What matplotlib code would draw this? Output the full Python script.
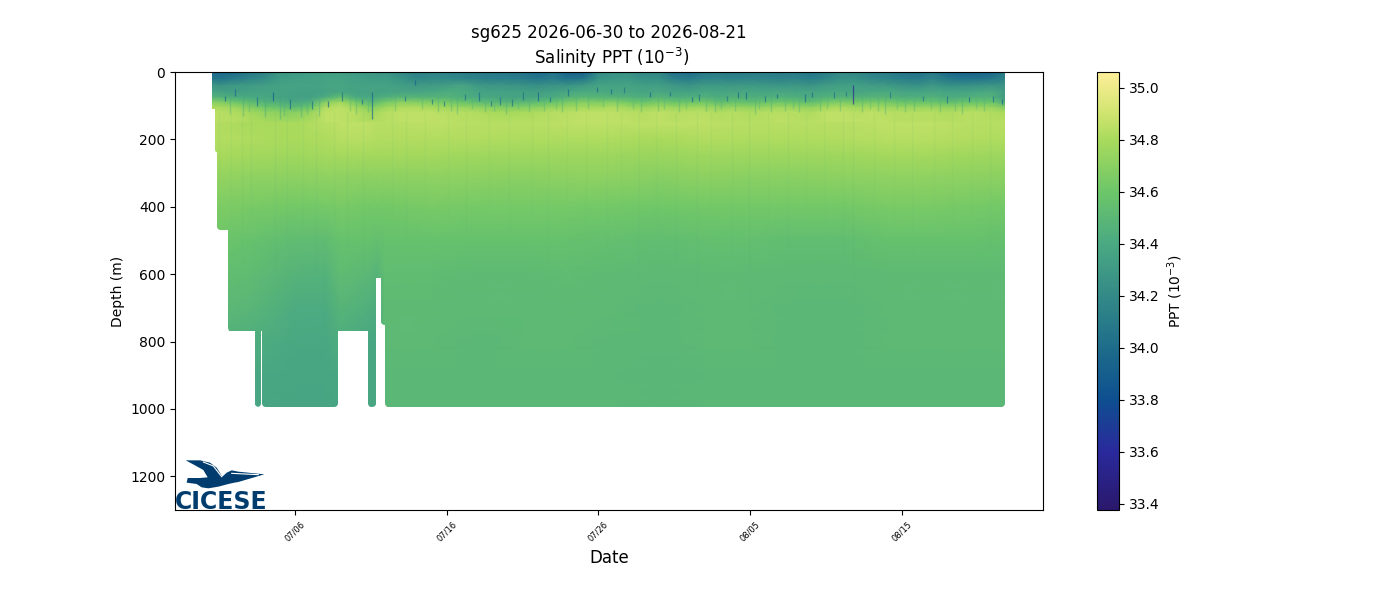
import matplotlib
matplotlib.use("Agg")
import matplotlib.pyplot as plt
import matplotlib.dates as mdates
import numpy as np
from datetime import datetime, timedelta
from matplotlib.colors import LinearSegmentedColormap, Normalize
from matplotlib.cm import ScalarMappable
from matplotlib.path import Path
from matplotlib.patches import PathPatch, Polygon

# all days are counted from 07/06
origin = datetime(2026, 7, 6)

# colour scale
cbar_levels = [33.375, 33.6, 33.8, 34.0, 34.2, 34.4, 34.6, 34.8, 34.9, 35.06]
cbar_colors = ["#2a186c", "#2a2a9c", "#0e4f90", "#1e6d8b", "#338a87", "#4aa982",
               "#6cc669", "#a8da5c", "#cfe46e", "#fdee99"]

# how deep the glider got
leg_edges = [-5.47, -5.27, -5.14, -4.42, -2.64, -2.24, -2.18, 2.83, 4.81, 5.34, 5.67, 5.93, 46.8]
leg_depth = [110, 240, 470, 770, 993, 770, 993, 770, 993, 610, 750, 993]

# upper layer, one column a day
top_days = list(range(-6, 48))
top_depths = [0, 20, 40, 60, 75, 90, 105, 120, 150]
top_0 = [34.0, 33.98, 34.0, 34.08, 34.15, 34.28, 34.3, 34.32, 34.33, 34.33, 34.3, 34.28, 34.27, 34.2,
         34.12, 34.15, 34.15, 34.12, 34.08, 34.08, 34.06, 34.05, 33.98, 34.05, 33.92, 33.92, 34.2,
         34.25, 34.25, 34.18, 34.18, 34.02, 34.0, 34.08, 34.1, 34.08, 34.1, 34.1, 34.08, 34.1, 34.05,
         34.12, 34.2, 34.18, 34.12, 34.1, 34.05, 34.03, 34.1, 33.98, 33.93, 33.93, 33.98, 34.15]
top_20 = [34.08, 34.05, 34.1, 34.16, 34.22, 34.31, 34.33, 34.34, 34.35, 34.36, 34.33, 34.31, 34.31, 34.26,
          34.18, 34.2, 34.2, 34.17, 34.14, 34.12, 34.12, 34.1, 34.06, 34.1, 34.04, 34.07, 34.26,
          34.29, 34.29, 34.24, 34.24, 34.12, 34.1, 34.16, 34.17, 34.16, 34.17, 34.16, 34.15, 34.16, 34.12,
          34.18, 34.25, 34.24, 34.19, 34.17, 34.12, 34.1, 34.16, 34.08, 34.04, 34.05, 34.08, 34.19]
top_40 = [34.3, 34.27, 34.3, 34.31, 34.33, 34.35, 34.36, 34.35, 34.37, 34.38, 34.36, 34.35, 34.35, 34.33,
          34.3, 34.31, 34.32, 34.38, 34.3, 34.28, 34.28, 34.26, 34.24, 34.27, 34.26, 34.3, 34.36,
          34.36, 34.36, 34.33, 34.33, 34.29, 34.26, 34.3, 34.3, 34.29, 34.3, 34.29, 34.28, 34.29, 34.27,
          34.31, 34.33, 34.33, 34.31, 34.3, 34.27, 34.25, 34.29, 34.25, 34.24, 34.26, 34.27, 34.27]
top_60 = [34.38, 34.36, 34.33, 34.35, 34.36, 34.36, 34.35, 34.34, 34.36, 34.38, 34.36, 34.35, 34.36, 34.37,
          34.37, 34.39, 34.43, 34.41, 34.37, 34.36, 34.35, 34.35, 34.33, 34.35, 34.39, 34.41, 34.41,
          34.39, 34.39, 34.37, 34.39, 34.36, 34.36, 34.39, 34.37, 34.38, 34.39, 34.37, 34.39, 34.38, 34.37,
          34.39, 34.4, 34.38, 34.39, 34.41, 34.38, 34.37, 34.39, 34.37, 34.37, 34.39, 34.41, 34.3]
top_75 = [34.5, 34.46, 34.42, 34.4, 34.38, 34.36, 34.34, 34.34, 34.42, 34.55, 34.4, 34.38, 34.44, 34.48,
          34.48, 34.47, 34.47, 34.43, 34.4, 34.38, 34.36, 34.36, 34.38, 34.4, 34.47, 34.5, 34.48,
          34.47, 34.45, 34.43, 34.47, 34.43, 34.43, 34.45, 34.41, 34.45, 34.43, 34.43, 34.45, 34.43, 34.41,
          34.45, 34.47, 34.45, 34.47, 34.47, 34.43, 34.43, 34.45, 34.41, 34.43, 34.45, 34.45, 34.26]
top_90 = [34.7, 34.68, 34.6, 34.54, 34.46, 34.44, 34.4, 34.44, 34.68, 34.78, 34.62, 34.5, 34.63, 34.7,
          34.68, 34.66, 34.63, 34.58, 34.54, 34.5, 34.48, 34.5, 34.54, 34.58, 34.64, 34.68, 34.66,
          34.68, 34.62, 34.58, 34.64, 34.58, 34.6, 34.62, 34.54, 34.58, 34.54, 34.58, 34.6, 34.58, 34.54,
          34.63, 34.66, 34.62, 34.64, 34.63, 34.58, 34.58, 34.58, 34.54, 34.58, 34.58, 34.58, 34.38]
top_105 = [34.82, 34.8, 34.76, 34.68, 34.6, 34.57, 34.52, 34.6, 34.82, 34.85, 34.78, 34.66, 34.77, 34.81,
           34.81, 34.79, 34.77, 34.75, 34.72, 34.68, 34.66, 34.68, 34.7, 34.74, 34.77, 34.79, 34.79,
           34.81, 34.77, 34.75, 34.79, 34.75, 34.77, 34.77, 34.72, 34.75, 34.72, 34.74, 34.77, 34.75, 34.72,
           34.79, 34.81, 34.77, 34.79, 34.77, 34.75, 34.75, 34.75, 34.72, 34.74, 34.75, 34.74, 34.65]
top_120 = [34.84, 34.84, 34.82, 34.79, 34.73, 34.71, 34.69, 34.75, 34.85, 34.86, 34.83, 34.77, 34.83, 34.85,
           34.85, 34.85, 34.84, 34.83, 34.82, 34.8, 34.79, 34.8, 34.81, 34.83, 34.84, 34.85, 34.85,
           34.85, 34.84, 34.83, 34.85, 34.83, 34.84, 34.84, 34.82, 34.83, 34.81, 34.83, 34.84, 34.83, 34.81,
           34.85, 34.86, 34.84, 34.85, 34.84, 34.83, 34.83, 34.83, 34.81, 34.83, 34.83, 34.82, 34.8]
top_150 = [34.84, 34.84, 34.83, 34.82, 34.8, 34.79, 34.79, 34.81, 34.85, 34.85, 34.84, 34.82, 34.84, 34.85,
           34.85, 34.85, 34.85, 34.84, 34.84, 34.83, 34.83, 34.83, 34.84, 34.84, 34.85, 34.85, 34.85,
           34.85, 34.85, 34.84, 34.85, 34.84, 34.85, 34.85, 34.84, 34.84, 34.83, 34.84, 34.85, 34.84, 34.84,
           34.85, 34.86, 34.85, 34.85, 34.85, 34.84, 34.84, 34.84, 34.83, 34.84, 34.84, 34.83, 34.83]

# lower layer
deep_days = [-6, -3, 0, 2, 3, 4.9, 5.4, 5.9, 9, 12, 15, 18, 21, 24, 27, 30, 33, 36, 39, 42, 45, 48]
deep_depths = [150, 200, 250, 300, 400, 500, 600, 700, 800, 900, 1000]
deep_150 = [34.84, 34.8, 34.8, 34.84, 34.85, 34.85, 34.84, 34.84, 34.85, 34.84, 34.84, 34.85, 34.85, 34.85, 34.85, 34.84, 34.84, 34.84, 34.85, 34.85, 34.84, 34.83]
deep_200 = [34.83, 34.81, 34.8, 34.81, 34.83, 34.83, 34.82, 34.82, 34.82, 34.82, 34.81, 34.81, 34.81, 34.8, 34.82, 34.81, 34.81, 34.82, 34.83, 34.83, 34.82, 34.81]
deep_250 = [34.8, 34.78, 34.77, 34.78, 34.79, 34.78, 34.78, 34.78, 34.78, 34.77, 34.76, 34.76, 34.76, 34.75, 34.77, 34.76, 34.76, 34.77, 34.78, 34.78, 34.77, 34.76]
deep_300 = [34.75, 34.73, 34.72, 34.73, 34.73, 34.72, 34.72, 34.72, 34.73, 34.72, 34.71, 34.72, 34.72, 34.7, 34.72, 34.71, 34.71, 34.72, 34.73, 34.73, 34.72, 34.71]
deep_400 = [34.67, 34.64, 34.62, 34.63, 34.64, 34.62, 34.62, 34.62, 34.64, 34.63, 34.63, 34.63, 34.62, 34.61, 34.62, 34.62, 34.62, 34.62, 34.64, 34.64, 34.63, 34.62]
deep_500 = [34.6, 34.57, 34.53, 34.53, 34.57, 34.56, 34.55, 34.56, 34.57, 34.56, 34.56, 34.56, 34.55, 34.54, 34.55, 34.55, 34.54, 34.54, 34.56, 34.56, 34.56, 34.55]
deep_600 = [34.55, 34.53, 34.47, 34.46, 34.53, 34.5, 34.47, 34.54, 34.53, 34.52, 34.52, 34.53, 34.52, 34.51, 34.52, 34.52, 34.51, 34.51, 34.52, 34.52, 34.52, 34.52]
deep_700 = [34.52, 34.49, 34.42, 34.41, 34.48, 34.44, 34.42, 34.52, 34.52, 34.51, 34.51, 34.52, 34.51, 34.5, 34.51, 34.51, 34.5, 34.5, 34.51, 34.51, 34.51, 34.51]
deep_800 = [34.47, 34.43, 34.39, 34.39, 34.43, 34.38, 34.38, 34.51, 34.51, 34.5, 34.51, 34.51, 34.5, 34.5, 34.51, 34.51, 34.5, 34.5, 34.51, 34.51, 34.51, 34.51]
deep_900 = [34.45, 34.39, 34.38, 34.38, 34.39, 34.38, 34.38, 34.5, 34.5, 34.5, 34.5, 34.5, 34.5, 34.49, 34.5, 34.5, 34.5, 34.5, 34.5, 34.5, 34.5, 34.5]
deep_1000 = [34.43, 34.38, 34.37, 34.37, 34.38, 34.38, 34.38, 34.5, 34.5, 34.5, 34.5, 34.5, 34.5, 34.49, 34.5, 34.5, 34.5, 34.5, 34.5, 34.5, 34.5, 34.5]

# thin fresh spikes seen in single profiles
spike_days = [-4.6, -3.96, -2.5, -1.45, -0.33, 1.1, 2.2, 3.1, 4.4, 5.1, 7.25, 7.9, 9.0, 9.8, 11.2, 12.1,
              12.9, 13.5, 14.3, 15.0, 16.0, 16.8, 18.0, 19.9, 20.8, 21.7, 23.4, 24.7, 26.2, 26.6, 28.5,
              29.2, 29.7, 31.0, 31.8, 33.6, 34.1, 35.5, 36.3, 36.8, 39.2, 41.4, 43.0, 44.4, 46.0, 46.6]
spike_top = [70, 50, 75, 60, 80, 85, 85, 60, 80, 60, 70, 25, 80, 85, 65, 60, 85, 75, 80, 60, 60, 75, 50, 45,
             50, 45, 60, 60, 75, 65, 70, 60, 60, 70, 65, 65, 60, 60, 60, 40, 60, 70, 70, 75, 70, 80]
spike_bottom = [85, 72, 100, 85, 110, 110, 105, 85, 95, 140, 85, 38, 95, 100, 82, 85, 100, 98, 100, 82,
                85, 90, 72, 60, 65, 62, 74, 72, 88, 85, 85, 78, 80, 88, 78, 88, 75, 78, 72, 95, 78, 86, 92, 90, 88, 95]
spike_sal = [33.98, 33.98, 34.02, 33.9, 33.95, 34.02, 33.96, 34.04, 34.02, 33.98, 34.04, 33.96, 34.06, 34.04, 34.02,
             33.98, 34.02, 34.04, 34.04, 34.02, 33.96, 34.04, 33.94, 33.98, 33.98, 34.04, 33.96, 33.94, 33.96, 34.04,
             34.04, 33.98, 33.94, 34.04, 33.94, 33.96, 33.98, 34.04, 34.04, 33.55, 34.06, 34.06, 34.04, 33.98, 34.04, 33.98]

# fainter profile streaks in the transition layer
streak_days = [-4.3, -3.4, -3.0, -2.0, -1.0, -0.7, 0.4, 0.8, 1.6, 3.6, 4.0, 4.8, 6.6, 8.4, 9.4, 10.3, 10.7, 11.7,
               12.5, 13.1, 13.9, 14.7, 15.4, 16.4, 17.2, 17.6, 18.5, 19.3, 20.3, 21.2, 22.3, 22.8, 23.9, 24.3,
               25.3, 25.8, 27.1, 27.7, 28.1, 29.0, 30.3, 30.6, 31.4, 32.3, 32.8, 33.2, 34.6, 35.1, 35.9, 37.4,
               37.9, 38.4, 38.9, 39.7, 40.2, 40.8, 41.9, 42.5, 43.5, 44.0, 44.9, 45.4]
streak_top = [70, 75, 70, 80, 70, 75, 70, 80, 75, 75, 70, 75, 75, 65, 70, 75, 65, 70, 75, 70, 65, 75, 70, 65, 70,
              60, 70, 65, 60, 65, 70, 65, 60, 65, 70, 65, 60, 70, 65, 60, 70, 65, 60, 70, 65, 60, 70, 65, 60,
              70, 65, 60, 70, 65, 60, 70, 65, 60, 70, 65, 60, 70]
streak_bottom = [125, 130, 120, 135, 140, 130, 135, 125, 130, 115, 125, 120, 115, 110, 120, 115, 125, 110, 120,
                 115, 125, 110, 120, 115, 110, 120, 115, 110, 105, 115, 110, 120, 115, 110, 120, 110, 115, 120,
                 110, 115, 125, 110, 120, 115, 110, 120, 115, 110, 115, 120, 110, 115, 125, 110, 120, 115, 110,
                 120, 115, 125, 110, 115]
streak_sal = [34.42, 34.38, 34.45, 34.36, 34.35, 34.4, 34.38, 34.42, 34.4, 34.5, 34.45, 34.48, 34.5, 34.48, 34.44,
              34.46, 34.42, 34.48, 34.44, 34.46, 34.42, 34.48, 34.44, 34.46, 34.48, 34.42, 34.46, 34.48, 34.5,
              34.46, 34.48, 34.44, 34.46, 34.48, 34.44, 34.48, 34.46, 34.42, 34.48, 34.46, 34.44, 34.48, 34.44,
              34.46, 34.48, 34.44, 34.46, 34.48, 34.46, 34.44, 34.48, 34.46, 34.42, 34.48, 34.44, 34.46, 34.48,
              34.44, 34.46, 34.42, 34.48, 34.46]

# weak stripes running down through the thermocline
deep_streak_days = [-5.0, -4.2, -3.5, -2.9, -1.3, -0.5, 0.5, 1.4, 2.6, 3.4, 4.5, 6.4, 7.3, 8.6, 10.1, 11.3, 12.8, 14.1,
                    15.6, 16.7, 17.9, 19.2, 20.6, 21.5, 22.7, 23.8, 25.1, 26.5, 27.4, 28.8, 29.9, 31.2, 32.5, 33.7,
                    34.9, 36.1, 36.8, 38.2, 39.5, 40.7, 42.1, 43.3, 44.6, 45.8]
deep_streak_bottom = [440, 480, 560, 420, 600, 520, 480, 620, 450, 520, 600, 420, 500, 380, 460, 520, 400, 480, 420,
                      560, 380, 470, 520, 400, 620, 480, 560, 650, 420, 540, 700, 460, 520, 400, 480, 560, 680, 420,
                      460, 540, 400, 480, 420, 520]
deep_streak_sal = [34.56, 34.58, 34.5, 34.52, 34.44, 34.5, 34.54, 34.46, 34.52, 34.48, 34.5, 34.56, 34.54, 34.6, 34.58,
                   34.54, 34.6, 34.56, 34.6, 34.52, 34.62, 34.58, 34.54, 34.6, 34.5, 34.56, 34.52, 34.48, 34.6, 34.52,
                   34.46, 34.56, 34.52, 34.6, 34.56, 34.52, 34.46, 34.6, 34.58, 34.54, 34.62, 34.58, 34.6, 34.54]

# logo outline
bird_x = [32, 75, 105, 125, 142, 155, 170, 190, 268, 190, 178, 160, 130, 100, 80, 65, 35, 38, 75, 98, 85, 60]
bird_y = [13, 13, 20, 35, 62, 50, 43, 47, 55, 78, 80, 84, 92, 97, 94, 84, 80, 66, 66, 64, 42, 28]


def to_date(days):
    return mdates.date2num([origin + timedelta(days=float(d)) for d in days])


cmap = LinearSegmentedColormap.from_list(
    "haline", [((v - cbar_levels[0]) / (cbar_levels[-1] - cbar_levels[0]), c) for v, c in zip(cbar_levels, cbar_colors)])
norm = Normalize(cbar_levels[0], cbar_levels[-1])

fig = plt.figure(figsize=(14, 6), dpi=100)
ax = fig.add_axes([0.125, 0.15, 0.62, 0.73])
cax = fig.add_axes([1097 / 1400, 0.15, 22 / 1400, 0.73])

top_sal = np.array([top_0, top_20, top_40, top_60, top_75, top_90, top_105, top_120, top_150])
deep_sal = np.array([deep_150, deep_200, deep_250, deep_300, deep_400, deep_500, deep_600, deep_700,
                     deep_800, deep_900, deep_1000])
mesh_top = ax.pcolormesh(to_date(top_days), top_depths, top_sal, shading="gouraud", cmap=cmap, norm=norm)
mesh_deep = ax.pcolormesh(to_date(deep_days), deep_depths, deep_sal, shading="gouraud", cmap=cmap, norm=norm)

faint = ax.vlines(to_date(deep_streak_days), 120, deep_streak_bottom, colors=cmap(norm(deep_streak_sal)), lw=0.8, alpha=0.1)
streaks = ax.vlines(to_date(streak_days), streak_top, streak_bottom, colors=cmap(norm(streak_sal)), lw=1.0, alpha=0.4)
spikes = ax.vlines(to_date(spike_days), spike_top, spike_bottom, colors=cmap(norm(spike_sal)), lw=0.9, alpha=0.7)

# keep the colours inside what was actually sampled, corners rounded like the big markers
edges = to_date(leg_edges)
rx, ry = 0.2, 9
verts = [(edges[0], 0)]
for i, d in enumerate(leg_depth):
    left_round = i > 0 and d > leg_depth[i - 1]
    right_round = i == len(leg_depth) - 1 or d > leg_depth[i + 1]
    if left_round:
        verts += [(edges[i], d - ry), (edges[i] + 0.3 * rx, d - 0.3 * ry), (edges[i] + rx, d)]
    else:
        verts += [(edges[i], d)]
    if right_round:
        verts += [(edges[i + 1] - rx, d), (edges[i + 1] - 0.3 * rx, d - 0.3 * ry), (edges[i + 1], d - ry)]
    else:
        verts += [(edges[i + 1], d)]
verts += [(edges[-1], 0), (edges[0], 0)]
clip = PathPatch(Path(verts), transform=ax.transData, fc="none", ec="none")
ax.add_patch(clip)
for m in (mesh_top, mesh_deep, faint, streaks, spikes):
    m.set_clip_path(clip)

ax.set_xlim(to_date([-7.91, 49.31]))
ax.set_ylim(1300, 0)
ax.set_xticks(to_date([0, 10, 20, 30, 40]))
ax.xaxis.set_major_formatter(mdates.DateFormatter("%m/%d"))
ax.tick_params(axis="x", labelsize=6, labelrotation=45)
ax.set_xlabel("Date", fontsize=12)
ax.set_ylabel("Depth (m)")
ax.set_title("sg625 2026-06-30 to 2026-08-21\n Salinity PPT ($10^{-3}$)")

cb = fig.colorbar(ScalarMappable(norm=norm, cmap=cmap), cax=cax)
cb.set_ticks([33.4, 33.6, 33.8, 34.0, 34.2, 34.4, 34.6, 34.8, 35.0])
cb.set_label("PPT ($10^{-3}$)")

# CICESE logo, bottom left corner
logo = fig.add_axes([175 / 1400, 90 / 600, 100 / 1400, 52 / 600])
logo.set_xlim(0, 300)
logo.set_ylim(162, 6)
logo.axis("off")
navy = "#003d6e"
logo.add_patch(Polygon(list(zip(bird_x, bird_y)), closed=True, fc=navy, ec="none"))
logo.plot([85, 115, 140], [18, 30, 62], color="white", lw=0.8)
logo.plot([170, 250], [52, 56], color="white", lw=0.8)
logo.text(0, 159, "CICESE", color=navy, fontsize=17, fontweight="bold", ha="left", va="baseline",
          family="DejaVu Sans")

plt.savefig("out.png", dpi=100)
